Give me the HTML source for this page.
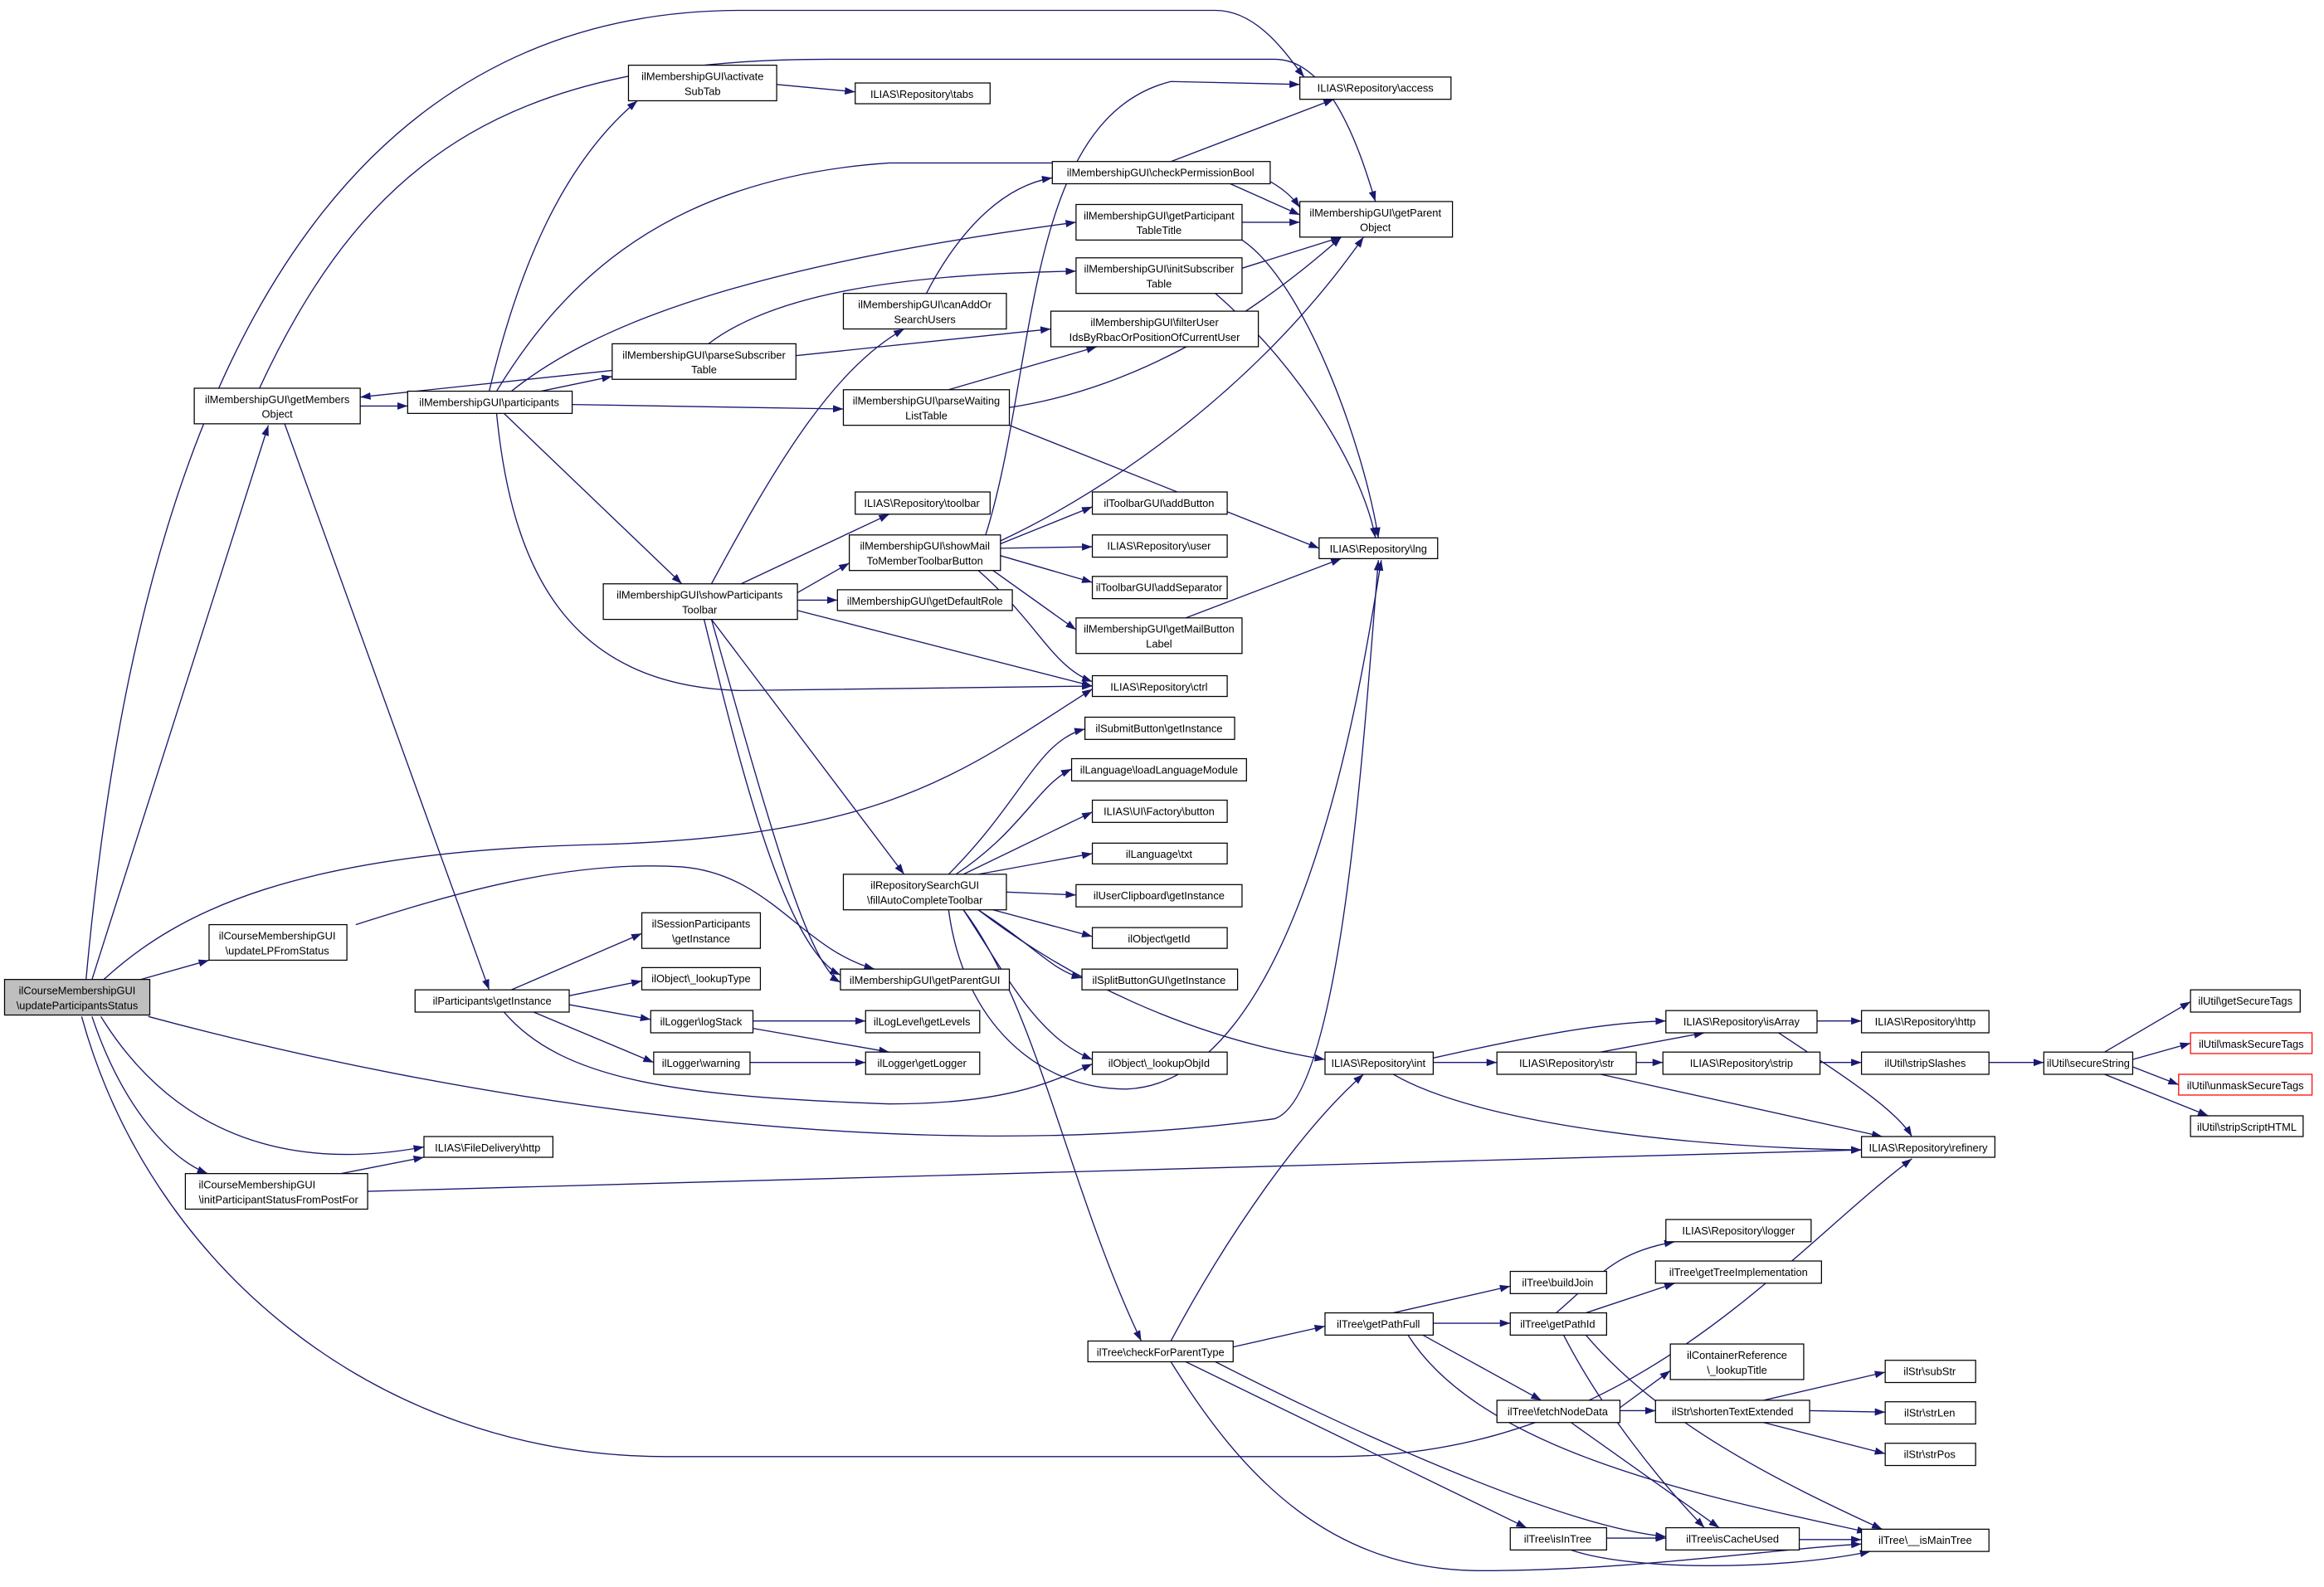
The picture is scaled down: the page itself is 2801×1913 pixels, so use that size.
<!DOCTYPE html>
<html><head><meta charset="utf-8"><style>
html,body{margin:0;padding:0;background:#fff}
svg{display:block}
text{font-family:"Liberation Sans Narrow","Liberation Sans",sans-serif;font-size:7.2px;fill:#000}
.e{fill:none;stroke:#191970;stroke-width:0.75}
.n{fill:#fff;stroke:#000;stroke-width:0.7}
.r{fill:#fff;stroke:#f00;stroke-width:0.7}
.g{fill:#bfbfbf;stroke:#000;stroke-width:0.7}
</style></head><body>
<svg width="2801" height="1913" viewBox="0 0 1568 1071" xmlns="http://www.w3.org/2000/svg">
<defs><marker id="a" markerWidth="7" markerHeight="5" refX="7" refY="2.5" orient="auto" markerUnits="userSpaceOnUse"><path d="M0,0 L7,2.5 L0,5 z" fill="#191970"/></marker></defs>
<g class="e" marker-end="url(#a)">
<path d="M58,661 C80,420 150,7 500,7 L820,7 C850,7 870,40 880,52"/>
<path d="M62,661 L181,287"/>
<path d="M70,661 C120,615 200,575 400,570 C600,565 650,520 737,465"/>
<path d="M95,661 L141,648"/>
<path d="M100,686 C300,740 600,790 860,755 C905,740 920,500 930,378"/>
<path d="M68,686 C120,770 200,790 286,774"/>
<path d="M62,686 C80,740 110,780 140,792"/>
<path d="M55,686 C100,850 250,983 450,983 L900,983 C1100,983 1200,850 1290,782"/>
<path d="M243,274 L275,274"/>
<path d="M175,262 C250,100 350,40 560,40 L860,40 C900,40 920,110 928,136"/>
<path d="M192,286 L330,668"/>
<path d="M330,264 C350,180 380,110 430,68"/>
<path d="M335,264 C380,190 450,120 600,110 L800,110 C850,110 870,130 877,140"/>
<path d="M345,264 C400,220 500,180 726,150"/>
<path d="M365,264 L413,254"/>
<path d="M386,273 L569,276"/>
<path d="M340,279 L460,394"/>
<path d="M335,279 C345,380 380,463 500,466 L737,463"/>
<path d="M413,250 L243,268"/>
<path d="M478,232 C520,200 600,185 726,183"/>
<path d="M537,240 L709,222"/>
<path d="M524,57 L577,62"/>
<path d="M790,109 L900,67"/>
<path d="M830,124 L877,145"/>
<path d="M838,150 L877,150"/>
<path d="M838,162 C880,190 920,300 930,363"/>
<path d="M838,181 L905,160"/>
<path d="M820,198 C880,250 920,320 928,363"/>
<path d="M625,198 C650,150 680,125 710,120"/>
<path d="M640,263 L740,234"/>
<path d="M681,275 C780,260 860,200 905,160"/>
<path d="M681,287 L890,370"/>
<path d="M480,394 C520,320 560,250 610,222"/>
<path d="M500,394 L600,347"/>
<path d="M538,400 L573,380"/>
<path d="M538,405 L565,405"/>
<path d="M538,412 L737,463"/>
<path d="M480,418 L610,590"/>
<path d="M475,418 C500,520 530,640 567,658"/>
<path d="M480,418 C520,560 545,650 567,663"/>
<path d="M665,361 C700,250 690,80 790,55 L877,57"/>
<path d="M675,365 C750,330 850,260 920,160"/>
<path d="M675,367 L737,342"/>
<path d="M675,370 L737,369"/>
<path d="M675,375 L737,393"/>
<path d="M670,385 L726,425"/>
<path d="M660,385 C700,420 710,450 737,460"/>
<path d="M800,417 L905,377"/>
<path d="M640,590 C690,540 700,500 732,492"/>
<path d="M645,590 C690,560 700,530 723,519"/>
<path d="M650,590 L737,548"/>
<path d="M660,590 L737,576"/>
<path d="M679,602 L726,604"/>
<path d="M670,614 L737,632"/>
<path d="M660,614 C700,640 710,655 730,660"/>
<path d="M650,614 C680,660 700,700 737,715"/>
<path d="M660,614 C720,660 800,700 894,715"/>
<path d="M640,614 C650,690 700,735 760,735 C880,730 920,450 932,378"/>
<path d="M650,614 C700,680 720,800 770,905"/>
<path d="M345,668 L433,630"/>
<path d="M384,672 L433,662"/>
<path d="M384,678 L439,688"/>
<path d="M360,683 L441,717"/>
<path d="M340,683 C380,730 460,740 600,745 C680,745 710,730 737,718"/>
<path d="M508,689 L584,689"/>
<path d="M508,694 L600,710"/>
<path d="M506,717 L584,717"/>
<path d="M240,624 C300,605 380,580 460,585 C520,590 540,640 590,654"/>
<path d="M230,792 L286,781"/>
<path d="M248,804 L1256,776"/>
<path d="M967,714 C1030,700 1080,690 1124,689"/>
<path d="M967,717 L1010,717"/>
<path d="M940,725 C1000,760 1150,775 1256,776"/>
<path d="M1080,710 L1150,697"/>
<path d="M1104,717 L1122,717"/>
<path d="M1080,725 L1270,767"/>
<path d="M1226,689 L1256,689"/>
<path d="M1200,697 C1250,730 1280,750 1290,767"/>
<path d="M1228,717 L1256,717"/>
<path d="M1342,717 L1379,717"/>
<path d="M1420,710 L1478,676"/>
<path d="M1439,715 L1478,704"/>
<path d="M1439,720 L1470,732"/>
<path d="M1420,725 L1490,753"/>
<path d="M790,905 C830,830 880,760 920,725"/>
<path d="M832,909 L894,895"/>
<path d="M800,919 L1030,1031"/>
<path d="M820,919 C900,960 1050,1030 1124,1037"/>
<path d="M790,919 C840,1000 900,1060 1000,1060 C1100,1060 1200,1045 1256,1042"/>
<path d="M940,886 L1019,868"/>
<path d="M967,893 L1019,893"/>
<path d="M960,901 L1040,945"/>
<path d="M950,901 C1000,980 1150,1010 1260,1034"/>
<path d="M1050,886 C1080,860 1090,845 1130,838"/>
<path d="M1070,886 L1130,866"/>
<path d="M1055,901 C1080,950 1120,1000 1150,1031"/>
<path d="M1070,901 C1120,960 1200,1000 1270,1032"/>
<path d="M1093,950 L1127,925"/>
<path d="M1093,952 L1117,952"/>
<path d="M1060,960 L1160,1031"/>
<path d="M1190,945 L1272,926"/>
<path d="M1221,952 L1272,953"/>
<path d="M1190,960 L1272,981"/>
<path d="M1084,1038 L1124,1038"/>
<path d="M1060,1046 C1100,1060 1200,1060 1262,1047"/>
<path d="M1214,1039 L1256,1039"/>
</g>
<g>
<rect class="g" x="3" y="661" width="98" height="24"/><text x="52" y="671" text-anchor="middle">ilCourseMembershipGUI</text><text x="52" y="681" text-anchor="middle">\updateParticipantsStatus</text>
<rect class="n" x="131" y="262" width="112" height="24"/><text x="187" y="272" text-anchor="middle">ilMembershipGUI\getMembers</text><text x="187" y="282" text-anchor="middle">Object</text>
<rect class="n" x="275" y="264" width="111" height="15"/><text x="330" y="274" text-anchor="middle">ilMembershipGUI\participants</text>
<rect class="n" x="424" y="44" width="100" height="24"/><text x="474" y="54" text-anchor="middle">ilMembershipGUI\activate</text><text x="474" y="64" text-anchor="middle">SubTab</text>
<rect class="n" x="577" y="56" width="91" height="14"/><text x="622" y="66" text-anchor="middle">ILIAS\Repository\tabs</text>
<rect class="n" x="877" y="52" width="102" height="15"/><text x="928" y="62" text-anchor="middle">ILIAS\Repository\access</text>
<rect class="n" x="710" y="109" width="147" height="15"/><text x="783" y="119" text-anchor="middle">ilMembershipGUI\checkPermissionBool</text>
<rect class="n" x="877" y="136" width="103" height="24"/><text x="928" y="146" text-anchor="middle">ilMembershipGUI\getParent</text><text x="928" y="156" text-anchor="middle">Object</text>
<rect class="n" x="726" y="138" width="112" height="24"/><text x="782" y="148" text-anchor="middle">ilMembershipGUI\getParticipant</text><text x="782" y="158" text-anchor="middle">TableTitle</text>
<rect class="n" x="726" y="174" width="112" height="24"/><text x="782" y="184" text-anchor="middle">ilMembershipGUI\initSubscriber</text><text x="782" y="194" text-anchor="middle">Table</text>
<rect class="n" x="569" y="198" width="110" height="24"/><text x="624" y="208" text-anchor="middle">ilMembershipGUI\canAddOr</text><text x="624" y="218" text-anchor="middle">SearchUsers</text>
<rect class="n" x="709" y="210" width="140" height="24"/><text x="779" y="220" text-anchor="middle">ilMembershipGUI\filterUser</text><text x="779" y="230" text-anchor="middle">IdsByRbacOrPositionOfCurrentUser</text>
<rect class="n" x="413" y="232" width="124" height="24"/><text x="475" y="242" text-anchor="middle">ilMembershipGUI\parseSubscriber</text><text x="475" y="252" text-anchor="middle">Table</text>
<rect class="n" x="569" y="263" width="112" height="24"/><text x="625" y="273" text-anchor="middle">ilMembershipGUI\parseWaiting</text><text x="625" y="283" text-anchor="middle">ListTable</text>
<rect class="n" x="577" y="332" width="91" height="15"/><text x="622" y="342" text-anchor="middle">ILIAS\Repository\toolbar</text>
<rect class="n" x="737" y="332" width="91" height="15"/><text x="782" y="342" text-anchor="middle">ilToolbarGUI\addButton</text>
<rect class="n" x="573" y="361" width="102" height="24"/><text x="624" y="371" text-anchor="middle">ilMembershipGUI\showMail</text><text x="624" y="381" text-anchor="middle">ToMemberToolbarButton</text>
<rect class="n" x="737" y="361" width="91" height="15"/><text x="782" y="371" text-anchor="middle">ILIAS\Repository\user</text>
<rect class="n" x="890" y="363" width="80" height="14"/><text x="930" y="373" text-anchor="middle">ILIAS\Repository\lng</text>
<rect class="n" x="737" y="389" width="91" height="15"/><text x="782" y="399" text-anchor="middle">ilToolbarGUI\addSeparator</text>
<rect class="n" x="407" y="394" width="131" height="24"/><text x="472" y="404" text-anchor="middle">ilMembershipGUI\showParticipants</text><text x="472" y="414" text-anchor="middle">Toolbar</text>
<rect class="n" x="565" y="398" width="118" height="14"/><text x="624" y="408" text-anchor="middle">ilMembershipGUI\getDefaultRole</text>
<rect class="n" x="726" y="417" width="112" height="24"/><text x="782" y="427" text-anchor="middle">ilMembershipGUI\getMailButton</text><text x="782" y="437" text-anchor="middle">Label</text>
<rect class="n" x="737" y="456" width="91" height="14"/><text x="782" y="466" text-anchor="middle">ILIAS\Repository\ctrl</text>
<rect class="n" x="732" y="484" width="101" height="15"/><text x="782" y="494" text-anchor="middle">ilSubmitButton\getInstance</text>
<rect class="n" x="723" y="512" width="118" height="15"/><text x="782" y="522" text-anchor="middle">ilLanguage\loadLanguageModule</text>
<rect class="n" x="737" y="540" width="91" height="15"/><text x="782" y="550" text-anchor="middle">ILIAS\UI\Factory\button</text>
<rect class="n" x="737" y="569" width="91" height="14"/><text x="782" y="579" text-anchor="middle">ilLanguage\txt</text>
<rect class="n" x="726" y="597" width="112" height="15"/><text x="782" y="607" text-anchor="middle">ilUserClipboard\getInstance</text>
<rect class="n" x="569" y="590" width="110" height="24"/><text x="624" y="600" text-anchor="middle">ilRepositorySearchGUI</text><text x="624" y="610" text-anchor="middle">\fillAutoCompleteToolbar</text>
<rect class="n" x="737" y="626" width="91" height="14"/><text x="782" y="636" text-anchor="middle">ilObject\getId</text>
<rect class="n" x="730" y="654" width="105" height="14"/><text x="782" y="664" text-anchor="middle">ilSplitButtonGUI\getInstance</text>
<rect class="n" x="433" y="616" width="80" height="24"/><text x="473" y="626" text-anchor="middle">ilSessionParticipants</text><text x="473" y="636" text-anchor="middle">\getInstance</text>
<rect class="n" x="567" y="654" width="114" height="14"/><text x="624" y="664" text-anchor="middle">ilMembershipGUI\getParentGUI</text>
<rect class="n" x="433" y="653" width="80" height="15"/><text x="473" y="663" text-anchor="middle">ilObject\_lookupType</text>
<rect class="n" x="280" y="668" width="104" height="15"/><text x="332" y="678" text-anchor="middle">ilParticipants\getInstance</text>
<rect class="n" x="439" y="682" width="69" height="15"/><text x="473" y="692" text-anchor="middle">ilLogger\logStack</text>
<rect class="n" x="584" y="682" width="77" height="15"/><text x="622" y="692" text-anchor="middle">ilLogLevel\getLevels</text>
<rect class="n" x="441" y="710" width="65" height="15"/><text x="473" y="720" text-anchor="middle">ilLogger\warning</text>
<rect class="n" x="584" y="710" width="77" height="15"/><text x="622" y="720" text-anchor="middle">ilLogger\getLogger</text>
<rect class="n" x="737" y="710" width="91" height="15"/><text x="782" y="720" text-anchor="middle">ilObject\_lookupObjId</text>
<rect class="n" x="141" y="624" width="93" height="24"/><text x="187" y="634" text-anchor="middle">ilCourseMembershipGUI</text><text x="187" y="644" text-anchor="middle">\updateLPFromStatus</text>
<rect class="n" x="286" y="767" width="87" height="14"/><text x="329" y="777" text-anchor="middle">ILIAS\FileDelivery\http</text>
<rect class="n" x="125" y="792" width="123" height="24"/><text x="134" y="802">ilCourseMembershipGUI</text><text x="134" y="812">\initParticipantStatusFromPostFor</text>
<rect class="n" x="894" y="710" width="73" height="15"/><text x="930" y="720" text-anchor="middle">ILIAS\Repository\int</text>
<rect class="n" x="1124" y="682" width="102" height="15"/><text x="1175" y="692" text-anchor="middle">ILIAS\Repository\isArray</text>
<rect class="n" x="1256" y="682" width="86" height="15"/><text x="1299" y="692" text-anchor="middle">ILIAS\Repository\http</text>
<rect class="n" x="1010" y="710" width="94" height="15"/><text x="1057" y="720" text-anchor="middle">ILIAS\Repository\str</text>
<rect class="n" x="1122" y="710" width="106" height="15"/><text x="1175" y="720" text-anchor="middle">ILIAS\Repository\strip</text>
<rect class="n" x="1256" y="710" width="86" height="15"/><text x="1299" y="720" text-anchor="middle">ilUtil\stripSlashes</text>
<rect class="n" x="1379" y="710" width="60" height="15"/><text x="1409" y="720" text-anchor="middle">ilUtil\secureString</text>
<rect class="n" x="1478" y="668" width="74" height="15"/><text x="1515" y="678" text-anchor="middle">ilUtil\getSecureTags</text>
<rect class="r" x="1478" y="697" width="82" height="14"/><text x="1519" y="707" text-anchor="middle" style="fill:#000">ilUtil\maskSecureTags</text>
<rect class="r" x="1470" y="725" width="90" height="14"/><text x="1515" y="735" text-anchor="middle">ilUtil\unmaskSecureTags</text>
<rect class="n" x="1478" y="753" width="76" height="14"/><text x="1516" y="763" text-anchor="middle">ilUtil\stripScriptHTML</text>
<rect class="n" x="1256" y="767" width="90" height="14"/><text x="1301" y="777" text-anchor="middle">ILIAS\Repository\refinery</text>
<rect class="n" x="1124" y="823" width="98" height="15"/><text x="1173" y="833" text-anchor="middle">ILIAS\Repository\logger</text>
<rect class="n" x="1117" y="851" width="112" height="15"/><text x="1173" y="861" text-anchor="middle">ilTree\getTreeImplementation</text>
<rect class="n" x="1019" y="858" width="65" height="15"/><text x="1051" y="868" text-anchor="middle">ilTree\buildJoin</text>
<rect class="n" x="894" y="886" width="73" height="15"/><text x="930" y="896" text-anchor="middle">ilTree\getPathFull</text>
<rect class="n" x="1019" y="886" width="65" height="15"/><text x="1051" y="896" text-anchor="middle">ilTree\getPathId</text>
<rect class="n" x="734" y="905" width="98" height="14"/><text x="783" y="915" text-anchor="middle">ilTree\checkForParentType</text>
<rect class="n" x="1127" y="907" width="90" height="24"/><text x="1172" y="917" text-anchor="middle">ilContainerReference</text><text x="1172" y="927" text-anchor="middle">\_lookupTitle</text>
<rect class="n" x="1272" y="918" width="61" height="15"/><text x="1302" y="928" text-anchor="middle">ilStr\subStr</text>
<rect class="n" x="1010" y="945" width="83" height="15"/><text x="1051" y="955" text-anchor="middle">ilTree\fetchNodeData</text>
<rect class="n" x="1117" y="945" width="104" height="15"/><text x="1169" y="955" text-anchor="middle">ilStr\shortenTextExtended</text>
<rect class="n" x="1272" y="946" width="61" height="15"/><text x="1302" y="956" text-anchor="middle">ilStr\strLen</text>
<rect class="n" x="1272" y="974" width="61" height="15"/><text x="1302" y="984" text-anchor="middle">ilStr\strPos</text>
<rect class="n" x="1019" y="1031" width="65" height="15"/><text x="1051" y="1041" text-anchor="middle">ilTree\isInTree</text>
<rect class="n" x="1124" y="1031" width="90" height="15"/><text x="1169" y="1041" text-anchor="middle">ilTree\isCacheUsed</text>
<rect class="n" x="1256" y="1032" width="86" height="15"/><text x="1299" y="1042" text-anchor="middle">ilTree\__isMainTree</text>
</g>
</svg>
</body></html>
